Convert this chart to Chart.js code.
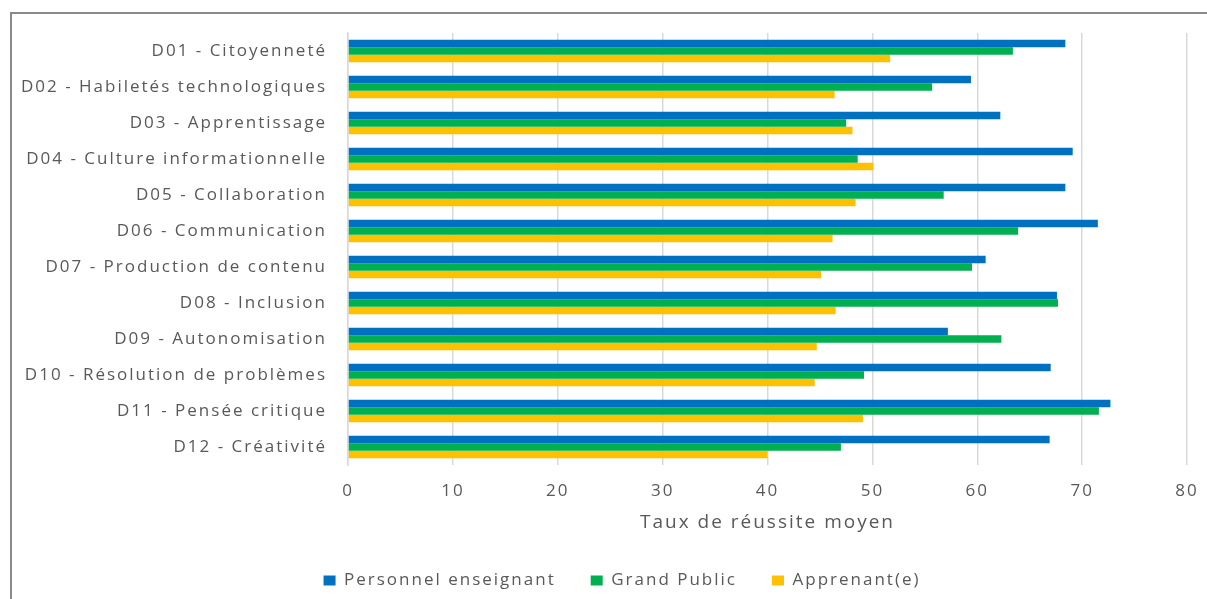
<!DOCTYPE html>
<html lang="fr">
<head>
<meta charset="utf-8">
<title>Taux de réussite moyen par domaine</title>
<script src="https://cdn.jsdelivr.net/npm/chart.js@4/dist/chart.umd.min.js"></script>
<style>
  html, body { margin: 0; padding: 0; background: #fff; overflow: hidden; }
  #wrap { position: relative; width: 1207px; height: 599px; }
  #frame {
    position: absolute; left: 10px; top: 12px;
    width: 1230px; height: 640px;
    border: 2px solid #8a8a8a; box-sizing: border-box;
  }
  #chart { position: absolute; left: 0; top: 0; }
</style>
</head>
<body>
<div id="wrap">
  <div id="frame"></div>
  <canvas id="chart" width="1207" height="599"></canvas>
</div>
<script>
// Domaines (axe vertical)
const domaines = [
  'D01 - Citoyenneté',
  'D02 - Habiletés technologiques',
  'D03 - Apprentissage',
  'D04 - Culture informationnelle',
  'D05 - Collaboration',
  'D06 - Communication',
  'D07 - Production de contenu',
  'D08 - Inclusion',
  'D09 - Autonomisation',
  'D10 - Résolution de problèmes',
  'D11 - Pensée critique',
  'D12 - Créativité'
];

// Taux de réussite moyen par groupe
const personnelEnseignant = [68.4, 59.4, 62.2, 69.1, 68.4, 71.5, 60.8, 67.6, 57.2, 67.0, 72.7, 66.9];
const grandPublic         = [63.4, 55.7, 47.5, 48.6, 56.8, 63.9, 59.5, 67.7, 62.3, 49.2, 71.6, 47.0];
const apprenants          = [51.7, 46.4, 48.1, 50.1, 48.4, 46.2, 45.1, 46.5, 44.7, 44.5, 49.1, 40.0];

// Graduations de l'axe horizontal
const xMin = 0;
const xMax = 80;
const xStep = 10;

const texte = '#595959';
const grille = '#d9d9d9';
const police = "'Open Sans', sans-serif";

const padGauche = 57;
const padHaut = 33;
const lettres = '2px';

// le canvas est redimensionné par Chart.js (ce qui remet le contexte à zéro),
// donc l'espacement des lettres est réappliqué avant la mise en page et le dessin
const espacement = {
    id: 'espacement',
    beforeUpdate(chart) { chart.ctx.letterSpacing = lettres; },
    beforeDraw(chart) { chart.ctx.letterSpacing = lettres; },
    // les libellés longs dépassent dans la marge gauche : on élargit la zone de l'axe y
    afterLayout(chart) { chart.scales.y.left = 0; }
};

var ctx = document.getElementById('chart').getContext('2d');

var chart = new Chart(ctx, {
    type: 'bar',
    data: {
        labels: domaines,
        datasets: [
            { label: 'Personnel enseignant', data: personnelEnseignant, backgroundColor: '#0070C0' },
            { label: 'Grand Public', data: grandPublic, backgroundColor: '#00B050' },
            { label: 'Apprenant(e)', data: apprenants, backgroundColor: '#FFC000' }
        ]
    },
    options: {
        indexAxis: 'y',
        responsive: false,
        animation: false,
        devicePixelRatio: 1,
        categoryPercentage: 0.62,
        barPercentage: 1.0,
        layout: { padding: { left: padGauche, right: 20, top: padHaut, bottom: 0 } },
        scales: {
            x: {
                min: xMin,
                max: xMax,
                ticks: { stepSize: xStep, color: texte, padding: 16, font: { family: police, size: 17 } },
                grid: { color: grille, lineWidth: 1.5, drawTicks: false },
                border: { display: false },
                title: {
                    display: true,
                    text: 'Taux de réussite moyen',
                    color: texte,
                    font: { family: police, size: 19 },
                    padding: { top: 0, bottom: 3 }
                },
                afterFit: (scale) => {
                    scale.height = 72;
                    // le "80" tient dans la marge droite, pas besoin d'espace en plus
                    scale.paddingRight = 0;
                }
            },
            y: {
                ticks: { color: texte, padding: 21, font: { family: police, size: 17 } },
                grid: { display: false, drawTicks: false },
                border: { display: true, color: grille, width: 1.5 },
                afterFit: (scale) => { scale.width = 348 - padGauche; }
            }
        },
        plugins: {
            legend: {
                position: 'bottom',
                labels: {
                    boxWidth: 12,
                    boxHeight: 10,
                    padding: 35,
                    color: texte,
                    font: { family: police, size: 17 }
                }
            },
            tooltip: { enabled: false }
        }
    },
    plugins: [espacement]
});
</script>
</body>
</html>
